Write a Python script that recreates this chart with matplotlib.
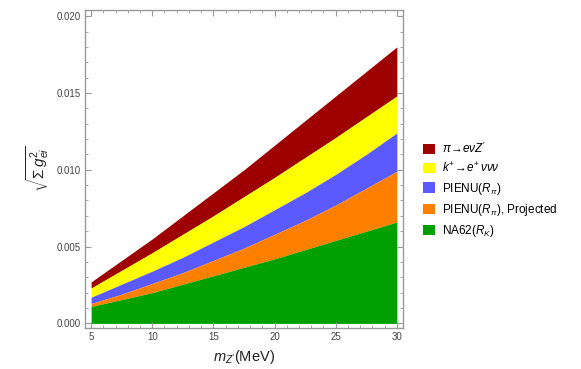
import numpy as np
import matplotlib
matplotlib.use('Agg')
import matplotlib.pyplot as plt
from matplotlib.patches import Patch
from matplotlib.ticker import MultipleLocator, FormatStrFormatter

plt.rcParams['font.family'] = ['Liberation Sans', 'DejaVu Sans']
plt.rcParams['mathtext.fontset'] = 'custom'
plt.rcParams['mathtext.rm'] = 'Liberation Sans'
plt.rcParams['mathtext.it'] = 'Liberation Sans:italic'

# top of each band
mass = [5, 7.5, 10, 12.5, 15, 17.5, 20, 22.5, 25, 27.5, 30]
pi_decay = [0.0027, 0.0041, 0.0055, 0.0070, 0.0085, 0.0100, 0.0116, 0.0132, 0.0148, 0.0164, 0.0180]
k_decay = [0.0023, 0.00345, 0.0046, 0.0058, 0.0070, 0.00825, 0.0095, 0.0108, 0.0121, 0.01345, 0.0148]
pienu = [0.0017, 0.00255, 0.0034, 0.0043, 0.0053, 0.0063, 0.0074, 0.0085, 0.0097, 0.0110, 0.0124]
pienu_proj = [0.0013, 0.0019, 0.0026, 0.0033, 0.0041, 0.0049, 0.0058, 0.0067, 0.0077, 0.0088, 0.0099]
na62 = [0.0011, 0.00155, 0.0020, 0.00255, 0.0031, 0.00365, 0.0042, 0.0048, 0.0054, 0.0060, 0.0066]

labels = [r"$\pi\!\to\! e\nu Z'$", r"$k^{+}\!\to\! e^{+}\,\nu\nu\nu$",
          r"PIENU($R_\pi$)", r"PIENU($R_\pi$), Projected", r"NA62($R_K$)"]
colors = ['#9e0000', '#ffff00', '#5a5aff', '#ff8000', '#00a000']

fig = plt.figure(figsize=(5.81, 3.69), dpi=100)
ax = fig.add_axes([0.1463, 0.1111, 0.5473, 0.8618])

bands = [pi_decay, k_decay, pienu, pienu_proj, na62]
for upper, lower, c in zip(bands, bands[1:] + [[0] * len(mass)], colors):
    ax.fill_between(mass, lower, upper, color=c, lw=0)

ax.set_xlim(4.5, 30.5)
ax.set_ylim(-0.0003, 0.0204)
ax.xaxis.set_major_locator(MultipleLocator(5))
ax.xaxis.set_minor_locator(MultipleLocator(1))
ax.yaxis.set_major_locator(MultipleLocator(0.005))
ax.yaxis.set_minor_locator(MultipleLocator(0.001))
ax.yaxis.set_major_formatter(FormatStrFormatter('%.3f'))

grey = '#999999'
for s in ax.spines.values():
    s.set_color(grey)
    s.set_linewidth(1.0)
ax.tick_params(which='both', direction='in', top=True, right=True,
               color=grey, labelsize=7, labelcolor='#444444', pad=3)
ax.tick_params(which='major', length=4, width=0.8)
ax.tick_params(which='minor', length=2, width=0.6)

ax.set_xlabel(r"$m_{Z'}$(MeV)", fontsize=10.5, color='#222222', labelpad=4)
ax.set_ylabel(r"$\sqrt{\Sigma\, g_{ei}^2}$", fontsize=11, color='#222222', labelpad=4)

handles = [Patch(facecolor=c, edgecolor='none') for c in colors]
fig.legend(handles, labels, loc='center left', bbox_to_anchor=(0.71, 0.485),
           frameon=False, fontsize=8.5, handlelength=1.0, handleheight=1.0,
           handletextpad=0.6, labelspacing=0.45)

fig.savefig('out.png', dpi=100)
